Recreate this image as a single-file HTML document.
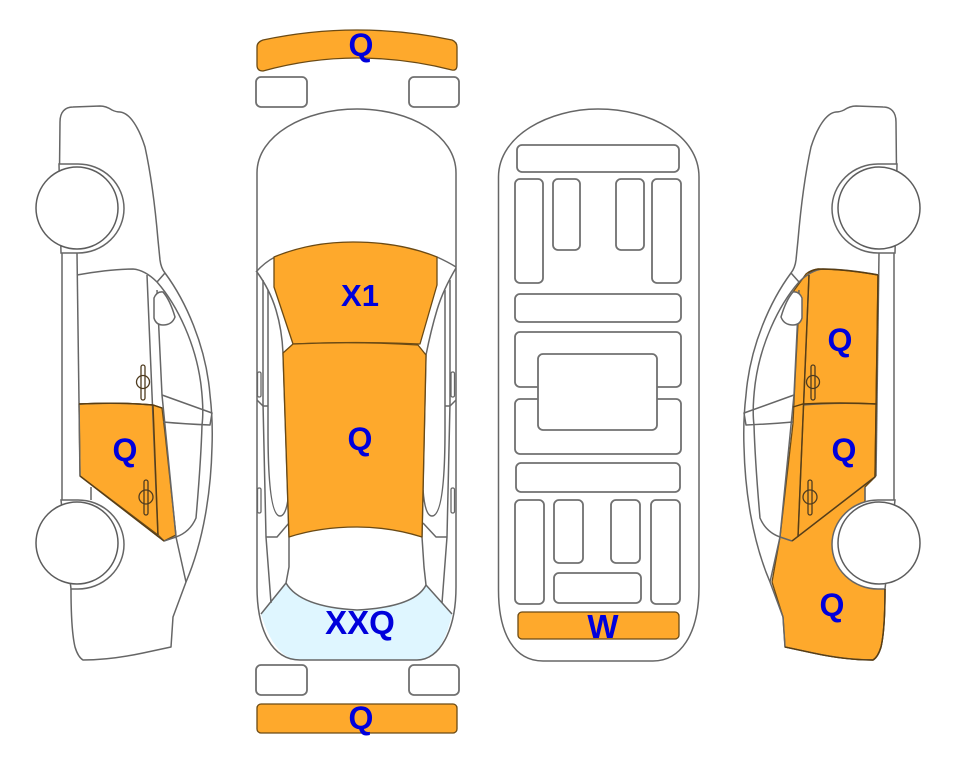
<!DOCTYPE html>
<html>
<head>
<meta charset="utf-8">
<style>
html,body{margin:0;padding:0;background:#fff;width:963px;height:768px;overflow:hidden}
svg{display:block}
text{font-family:"Liberation Sans",Arial,sans-serif;font-weight:bold;font-size:32px;fill:#0000dc;text-anchor:middle}
.l{fill:none;stroke:#666;stroke-width:1.5;stroke-linejoin:round}
.r{fill:#fff;stroke:#707070;stroke-width:1.8}
.o{fill:#fea92c;stroke:#6b4a14;stroke-width:1.3;stroke-linejoin:round}
.d{fill:none;stroke:#5a3d10;stroke-width:1.4}
</style>
</head>
<body>
<svg width="963" height="768" viewBox="0 0 963 768" xmlns="http://www.w3.org/2000/svg">
<defs>
<g id="side">
  <path class="l" d="M59.500,170 L60,122 C60,112 65,107 73,107 L100,106 Q106,106 112,110 Q116,112 120,112 C130,113 139,128 145,147 C150,170 155,205 158,240 L160,260 Q161,268 165,273 C185,300 206,345 210,395 Q213,420 212,447 C211,490 204,540 186,582 L173,617 L171,647 L143,653 Q110,660 83,660 Q78,657 75,647 Q71,630 71,589"/>
  <path class="l" d="M165,273 L157,282"/>
  <path class="l" d="M62,253 V501"/>
  <path class="l" d="M77,253 L80,476"/>
  <path class="l" d="M91,487 V500"/>
  <path class="l" d="M77,275 Q110,269 133,269 Q145,270 157,282 C178,306 196,345 201,385 Q204,410 202,425 C201,460 198,495 196,518 Q190,532 176,537 L164,541"/>
  <path class="l" d="M147,275 L158,537"/>
  <path class="l" d="M157,290 L162,395 L176,537 L186,582"/>
  <path class="l" d="M162,395 L212,413 L210,425 Q185,424 163,422"/>
  <path class="l" d="M79,404 Q120,402 153,405"/>
  <path class="l" d="M80,476 L164,541"/>
  <path fill="#fff" stroke="#666" stroke-width="1.5" d="M154,298 Q157,291 163,292 Q170,300 175,317 Q172,325 163,325 Q156,325 154,318 Z"/>
  <path fill="#fff" stroke="#666" stroke-width="1.5" d="M59,164 H78 A46,44.500 0 0 1 78,253 H61 Z"/>
  <path fill="#fff" stroke="#666" stroke-width="1.5" d="M61,500 H78 A46,44.500 0 0 1 78,589 H71 L71,589 Z"/>
  <circle cx="77" cy="208" r="41" fill="#fff" stroke="#5c5c5c" stroke-width="1.500"/>
  <circle cx="77" cy="543" r="41" fill="#fff" stroke="#5c5c5c" stroke-width="1.500"/>
  <g fill="none" stroke="#4f3c20" stroke-width="1.300">
    <circle cx="143" cy="382" r="6.500"/>
    <rect x="141" y="365" width="4" height="35" rx="2"/>
    <circle cx="146" cy="497" r="7"/>
    <rect x="144" y="480" width="4" height="35" rx="2"/>
  </g>
</g>
</defs>

<!-- left car -->
<path class="o" d="M79,404 Q120,402 153,405 L162,408 L165,433 L176,535 L164,541 L158,535 L80,476 Z"/>
<use href="#side"/>
<path class="d" d="M79,404 Q120,402 153,405 L162,408 M153,405 L158,535 M80,476 L164,541"/>

<!-- right car -->
<path class="o" d="M878,275 Q845,269 818,269 Q810,270 806,274 L793,292 L798,323 L795,380 L793,423 L780,537 L772,582 L783,617 L785,647 L813,653 Q845,660 873,660 Q878,657 881,647 Q885,630 885,589 L865,502 V487 L875,477 Z"/>
<g transform="translate(956,0) scale(-1,1)"><use href="#side"/></g>
<path class="d" d="M878,275 Q845,269 818,269 Q812,270 808,273 M809,275 L798,537 M793,407 L803,404 Q840,402 877,404 M875,477 L792,541 M878,275 L875,477"/>
<path class="d" d="M885,589 Q885,630 881,647 Q878,657 873,660 Q845,660 813,653 L785,647"/>

<!-- center car -->
<path class="o" d="M257,47 Q257,42 263,40 Q310,30 357,30 Q405,30 452,40 Q457,42 457,47 V65 Q457,71 452,70 Q405,58 357,58 Q310,58 263,71 Q257,71 257,65 Z"/>
<rect class="r" x="256" y="77" width="51" height="30" rx="5"/>
<rect class="r" x="409" y="77" width="50" height="30" rx="5"/>

<path d="M286,583 L261,614 Q275,660 300,660 H417 Q442,660 452,614 L426,585 Q415,607 357,610 Q300,607 286,583 Z" fill="#dff6ff"/>
<path class="l" d="M257,587 V173 C257,135 305,109 357,109 C410,109 456,135 456,173 V587 C456,630 440,660 417,660 H300 C272,660 257,630 257,587 Z" stroke-width="1.800"/>
<path class="l" d="M256,272 Q265,262 275,257 M437,257 Q448,262 456,267"/>
<path class="l" d="M257,272 Q270,290 276,310 Q282,330 283,353 L289,537 V567 L286,583 L261,614"/>
<path class="l" d="M456,268 Q443,290 437,310 Q431,330 426,355 L422,537 L424,567 L426,585 L452,614"/>
<path class="l" d="M286,583 Q300,607 357,610 Q415,607 426,585"/>
<path class="l" d="M263,280 V403 L266,537 L271,603"/>
<path class="l" d="M450,280 V403 L447,537 L442,603"/>
<path class="l" d="M268,290 V430 Q268,516 280,516 Q287,516 289,490"/>
<path class="l" d="M445,290 V430 Q445,516 432,516 Q425,516 423,490"/>
<path class="l" d="M257,400 L263,406 H268 M456,400 L450,406 H445"/>
<path class="l" d="M266,537 H277 L289,523 M447,537 H436 L423,523"/>
<rect x="257.500" y="372" width="3.500" height="25" rx="1.500" fill="#fff" stroke="#666" stroke-width="1.300"/>
<rect x="257.500" y="488" width="3.500" height="25" rx="1.500" fill="#fff" stroke="#666" stroke-width="1.300"/>
<rect x="451" y="372" width="3.500" height="25" rx="1.500" fill="#fff" stroke="#666" stroke-width="1.300"/>
<rect x="451" y="488" width="3.500" height="25" rx="1.500" fill="#fff" stroke="#666" stroke-width="1.300"/>

<path class="o" d="M274,257 Q310,242 353,242 Q400,242 437,257 V285 L420,344 Q355,341 293,344 L274,287 Z"/>
<path class="o" d="M283,353 L293,344 Q355,341 418,345 L426,355 L422,537 Q390,527 357,527 Q320,527 289,537 Z"/>

<rect class="r" x="256" y="665" width="51" height="30" rx="5"/>
<rect class="r" x="409" y="665" width="50" height="30" rx="5"/>
<rect class="o" x="257" y="704" width="200" height="29" rx="4"/>

<!-- top view -->
<path class="l" stroke-width="1.800" d="M498.500,177 C498.500,135 550,109 598,109 C650,109 699,135 699,177 V587 C699,635 680,661 653,661 H543 C515,661 498.500,635 498.500,590 Z"/>
<rect class="r" x="517" y="145" width="162" height="27" rx="5"/>
<rect class="r" x="515" y="179" width="28" height="104" rx="5"/>
<rect class="r" x="553" y="179" width="27" height="71" rx="5"/>
<rect class="r" x="616" y="179" width="28" height="71" rx="5"/>
<rect class="r" x="652" y="179" width="29" height="104" rx="5"/>
<rect class="r" x="515" y="294" width="166" height="28" rx="5"/>
<rect class="r" x="515" y="332" width="166" height="55" rx="5"/>
<rect class="r" x="515" y="399" width="166" height="55" rx="5"/>
<rect class="r" x="538" y="354" width="119" height="76" rx="5"/>
<rect class="r" x="516" y="463" width="164" height="29" rx="5"/>
<rect class="r" x="515" y="500" width="29" height="104" rx="5"/>
<rect class="r" x="554" y="500" width="29" height="63" rx="5"/>
<rect class="r" x="611" y="500" width="29" height="63" rx="5"/>
<rect class="r" x="651" y="500" width="29" height="104" rx="5"/>
<rect class="r" x="554" y="573" width="87" height="30" rx="5"/>
<rect class="o" x="518" y="612" width="161" height="27" rx="4"/>

<!-- labels -->
<text x="361" y="56">Q</text>
<text x="361" y="729">Q</text>
<text x="360" y="306" style="font-size:31px">X1</text>
<text x="360" y="450">Q</text>
<text x="360" y="634" style="font-size:33px">XXQ</text>
<text x="603" y="638" style="font-size:33px">W</text>
<text x="125" y="461">Q</text>
<text x="840" y="351">Q</text>
<text x="844" y="461">Q</text>
<text x="832" y="616">Q</text>
</svg>
</body>
</html>
